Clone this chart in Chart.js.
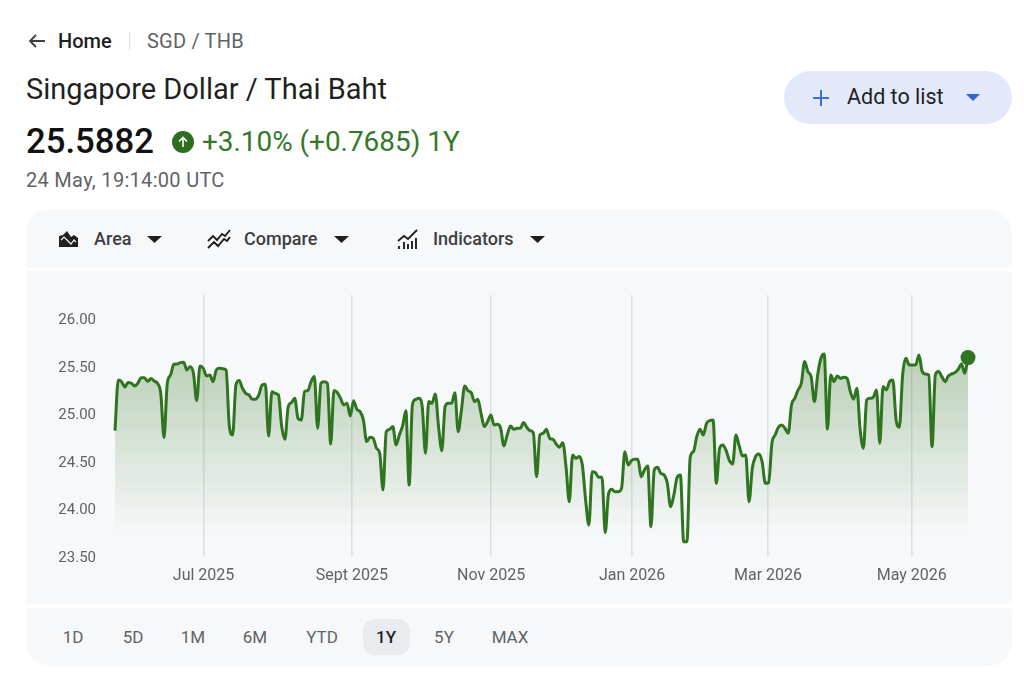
<!DOCTYPE html>
<html lang="en">
<head>
<meta charset="utf-8">
<title>SGD / THB</title>
<script src="https://cdn.jsdelivr.net/npm/chart.js@4"></script>
<style>
  body { margin: 0; width: 1024px; height: 690px; background: #fff; overflow: hidden; position: relative;
         font-family: Roboto, sans-serif; color: #1f1f1f; }
  .abs { position: absolute; white-space: nowrap; line-height: 1; }
  .panel { position: absolute; left: 26px; width: 986px; background: #f7f8fa; }
  .range { position: absolute; top: 628px; transform: translateX(-50%); font-size: 17px; line-height: 18px; color: #5f6368; }
  svg { position: absolute; }
</style>
</head>
<body>
<!-- breadcrumb -->
<svg style="left:27px;top:32px" width="20" height="18" viewBox="0 0 20 18"><path d="M18 9H3M9 3 3 9l6 6" fill="none" stroke="#3c4043" stroke-width="1.8"/></svg>
<div class="abs" style="left:58px;top:31px;font-size:20px;font-weight:500">Home</div>
<div class="abs" style="left:129px;top:32px;width:1px;height:18px;background:#dadce0"></div>
<div class="abs" style="left:147px;top:31px;font-size:20px;letter-spacing:.2px;color:#5f6368">SGD / THB</div>

<!-- heading -->
<div class="abs" style="left:26px;top:75px;font-size:29px">Singapore Dollar / Thai Baht</div>
<div class="abs" style="left:26px;top:124px;font-size:34.7px;font-weight:500;color:#111">25.5882</div>
<svg style="left:172px;top:131px" width="22" height="22" viewBox="0 0 22 22"><circle cx="11" cy="11" r="11" fill="#2d6e1f"/><path d="M11 16V7M7 10.5 11 6.5l4 4" fill="none" stroke="#fff" stroke-width="1.6"/></svg>
<div class="abs" style="left:202px;top:128px;font-size:27.9px;color:#34782a">+3.10% (+0.7685) 1Y</div>
<div class="abs" style="left:26px;top:170px;font-size:20px;letter-spacing:.3px;color:#5f6368">24 May, 19:14:00 UTC</div>

<!-- add to list -->
<div class="abs" style="left:784px;top:71px;width:228px;height:53px;border-radius:27px;background:#e3e9fb"></div>
<svg style="left:812px;top:89px" width="18" height="18" viewBox="0 0 18 18"><path d="M9 1v16M1 9h16" stroke="#3b6ed6" stroke-width="2"/></svg>
<div class="abs" style="left:847px;top:86px;font-size:21.5px">Add to list</div>
<svg style="left:965px;top:94px" width="16" height="8" viewBox="0 0 16 8"><path d="M1 0h14L8 7z" fill="#2f63d8"/></svg>

<!-- toolbar -->
<div class="panel" style="top:209px;height:59px;border-radius:24px 24px 4px 4px"></div>
<svg style="left:57px;top:229px" width="23" height="20" viewBox="0 0 23 20"><path d="M2 18V7l4-1 4-4 4 6 3-2 4 3v9z" fill="#1f1f1f"/><path d="M4 11l3-3 3 3 4 4 3-4 2 2" fill="none" stroke="#f7f8fa" stroke-width="1.2"/></svg>
<div class="abs" style="left:94px;top:230px;font-size:18px;font-weight:500;color:#3c4043">Area</div>
<svg style="left:147px;top:236px" width="15" height="7" viewBox="0 0 15 7"><path d="M0 0h15L7.5 7z" fill="#1f1f1f"/></svg>
<svg style="left:207px;top:229px" width="24" height="21" viewBox="0 0 24 21"><path d="M1 12l5-5 4 4 5-6 3 2 5-6M1 19l6-6 4 4 6-7 3 2 3-4" fill="none" stroke="#1f1f1f" stroke-width="1.9"/></svg>
<div class="abs" style="left:244px;top:230px;font-size:18px;font-weight:500;color:#3c4043">Compare</div>
<svg style="left:334px;top:236px" width="15" height="7" viewBox="0 0 15 7"><path d="M0 0h15L7.5 7z" fill="#1f1f1f"/></svg>
<svg style="left:397px;top:229px" width="22" height="21" viewBox="0 0 22 21"><path d="M1 12l6-5 4 3 9-9" fill="none" stroke="#1f1f1f" stroke-width="1.8"/><path d="M2 20v-3M7 20v-7M11 20v-5M15 20v-8M19 20v-11" stroke="#1f1f1f" stroke-width="1.9"/></svg>
<div class="abs" style="left:433px;top:230px;font-size:18px;font-weight:500;color:#3c4043">Indicators</div>
<svg style="left:530px;top:236px" width="15" height="7" viewBox="0 0 15 7"><path d="M0 0h15L7.5 7z" fill="#1f1f1f"/></svg>

<!-- chart -->
<div class="panel" style="top:271px;height:333px;border-radius:4px">
  <canvas id="rateChart" width="986" height="333"></canvas>
</div>

<!-- range selector -->
<div class="panel" style="top:608px;height:58px;border-radius:4px 4px 24px 24px"></div>
<div class="abs" style="left:363px;top:619px;width:47px;height:36px;border-radius:12px;background:#e9ebf0"></div>
<div class="range" style="left:73px">1D</div>
<div class="range" style="left:133px">5D</div>
<div class="range" style="left:193px">1M</div>
<div class="range" style="left:255px">6M</div>
<div class="range" style="left:322px">YTD</div>
<div class="range" style="left:386px;color:#1f1f1f;font-weight:500">1Y</div>
<div class="range" style="left:444px">5Y</div>
<div class="range" style="left:510px">MAX</div>

<script>
// Closing SGD/THB rate for each trading session over the year
const rates = [
  24.8197, 25.353, 25.335, 25.279, 25.325, 25.318, 25.290, 25.318, 25.377, 25.377,
  25.339, 25.367, 25.342, 25.318, 25.212, 24.746, 25.318, 25.405, 25.518, 25.521,
  25.535, 25.539, 25.458, 25.493, 25.423, 25.135, 25.500, 25.476, 25.395, 25.406,
  25.335, 25.458, 25.476, 25.472, 25.458, 24.860, 24.774, 25.300, 25.346, 25.265,
  25.212, 25.195, 25.149, 25.149, 25.195, 25.300, 25.307, 24.763, 25.230, 25.212,
  25.195, 24.862, 24.728, 25.072, 25.114, 25.160, 24.949, 24.932, 25.230, 25.241,
  25.335, 25.388, 24.844, 25.318, 25.335, 25.318, 24.679, 25.241, 25.220, 25.160,
  25.090, 25.107, 24.974, 25.135, 25.044, 25.020, 24.932, 24.704, 24.749, 24.739,
  24.634, 24.581, 24.195, 24.809, 24.833, 24.862, 24.669, 24.774, 24.869, 25.030,
  24.247, 25.090, 25.149, 25.160, 25.072, 24.581, 25.125, 25.107, 25.205, 24.862,
  24.609, 25.072, 25.107, 25.107, 25.219, 24.809, 25.037, 25.290, 25.240, 25.219,
  25.125, 25.149, 25.002, 24.862, 24.914, 24.984, 24.879, 24.886, 24.844, 24.658,
  24.774, 24.869, 24.833, 24.844, 24.844, 24.904, 24.854, 24.819, 24.798, 24.335,
  24.774, 24.791, 24.833, 24.739, 24.728, 24.679, 24.644, 24.693, 24.440, 24.072,
  24.563, 24.528, 24.546, 24.458, 24.090, 23.826, 24.388, 24.377, 24.328, 24.328,
  23.746, 24.153, 24.202, 24.177, 24.177, 24.212, 24.598, 24.458, 24.504, 24.518,
  24.518, 24.335, 24.405, 24.447, 23.809, 24.405, 24.433, 24.370, 24.353, 24.265,
  24.019, 24.142, 24.328, 24.353, 23.651, 23.651, 24.539, 24.599, 24.756, 24.834,
  24.774, 24.897, 24.925, 24.932, 24.265, 24.634, 24.669, 24.609, 24.504, 24.469,
  24.774, 24.658, 24.553, 24.563, 24.072, 24.423, 24.546, 24.574, 24.493, 24.265,
  24.272, 24.686, 24.774, 24.855, 24.879, 24.844, 24.792, 25.090, 25.160, 25.247,
  25.318, 25.546, 25.441, 25.388, 25.125, 25.405, 25.581, 25.626, 24.834, 25.405,
  25.335, 25.395, 25.370, 25.381, 25.370, 25.230, 25.149, 25.265, 24.827, 24.634,
  25.142, 25.160, 25.170, 25.247, 24.686, 25.283, 25.247, 25.335, 25.353, 24.932,
  24.855, 25.405, 25.581, 25.511, 25.511, 25.511, 25.616, 25.441, 25.416, 25.405,
  24.651, 25.405, 25.441, 25.388, 25.335, 25.395, 25.416, 25.430, 25.465, 25.521,
  25.423, 25.5882
];

// Session index where each month label sits
const monthTicks = [27.1, 72.5, 115.1, 158.2, 199.8, 243.8];
const monthLabels = ['Jul 2025', 'Sept 2025', 'Nov 2025', 'Jan 2026', 'Mar 2026', 'May 2026'];
const rateTicks = [23.5, 24, 24.5, 25, 25.5, 26];

const LINE_COLOR = '#2f741f';
const TICK_COLOR = '#5f6368';

/**
 * Vertical fade under the line, from the top of the data down to the axis.
 */
function areaFill(context) {
  const { ctx, chartArea } = context.chart;
  if (!chartArea) return 'transparent';
  const gradient = ctx.createLinearGradient(0, chartArea.top + 40, 0, chartArea.bottom - 20);
  gradient.addColorStop(0, 'rgba(47, 116, 31, 0.34)');
  gradient.addColorStop(1, 'rgba(47, 116, 31, 0)');
  return gradient;
}

const lastIndex = rates.length - 1;

new Chart(document.getElementById('rateChart'), {
  type: 'line',
  data: {
    datasets: [{
      data: rates.map((rate, i) => ({ x: i, y: rate })),
      borderColor: LINE_COLOR,
      borderWidth: 3,
      backgroundColor: areaFill,
      fill: 'start',
      clip: false,
      cubicInterpolationMode: 'monotone',
      pointRadius: ctx => (ctx.dataIndex === lastIndex ? 7.5 : 0),
      pointBackgroundColor: LINE_COLOR,
      pointBorderWidth: 0
    }]
  },
  options: {
    responsive: false,
    animation: false,
    layout: { padding: { top: 24, right: 44 } },
    plugins: { legend: { display: false }, tooltip: { enabled: false } },
    scales: {
      x: {
        type: 'linear',
        min: 0,
        max: lastIndex,
        afterBuildTicks: scale => { scale.ticks = monthTicks.map(value => ({ value })); },
        afterFit: scale => { scale.height = 48; },
        grid: { color: '#dcdfe3', lineWidth: 1.5, drawTicks: false },
        border: { display: false },
        ticks: {
          autoSkip: false,
          maxRotation: 0,
          padding: 10,
          color: TICK_COLOR,
          font: { family: 'Roboto', size: 16 },
          callback: value => monthLabels[monthTicks.indexOf(value)]
        }
      },
      y: {
        min: 23.5,
        max: 26.247,
        afterBuildTicks: scale => { scale.ticks = rateTicks.map(value => ({ value })); },
        afterFit: scale => { scale.width = 89; },
        grid: { display: false },
        border: { display: false },
        ticks: {
          padding: 11,
          labelOffset: 2,
          color: TICK_COLOR,
          font: { family: 'Roboto', size: 15 },
          callback: value => value.toFixed(2)
        }
      }
    }
  }
});
</script>
</body>
</html>
